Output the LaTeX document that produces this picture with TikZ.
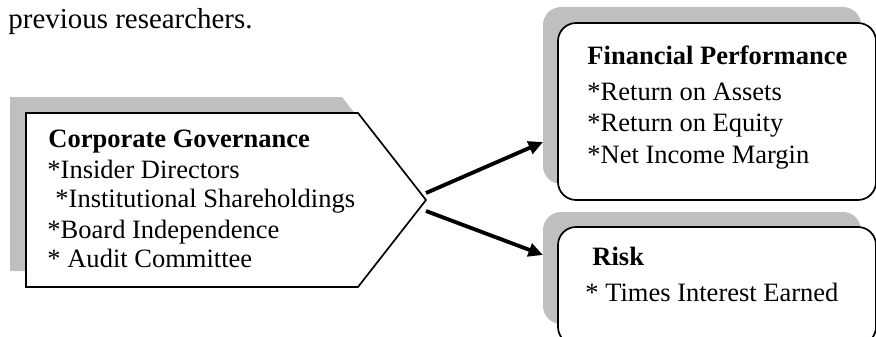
\documentclass[tikz,border=0pt]{standalone}
\usepackage{fontspec}
\setmainfont{Liberation Serif}
\usetikzlibrary{arrows.meta}

\tikzset{
  shadebox/.style={fill=black!25},
  outline/.style={draw, line width=0.7pt, fill=white},
  txt/.style={anchor=base west, inner sep=0pt, font=\fontsize{11}{13}\selectfont},
  head/.style={txt, font=\fontsize{11}{13}\selectfont\bfseries},
  link/.style={-{Triangle[length=6pt,width=5.5pt]}, line width=1.6pt}
}

\begin{document}
\begin{tikzpicture}[x=0.415pt, y=-0.415pt]
        \useasboundingbox (0,0) rectangle (876,337);

        % Leftover line of the page text
        \node[txt, font=\fontsize{12}{14}\selectfont] (intro) at (8,28) {previous researchers.};

        % Corporate governance block (shadow, then outline)
        \fill[shadebox] (10,97) -- (342,97) -- (410,184) -- (342,271) -- (10,271) -- cycle;
        \draw[outline] (26,113) -- (358,113) -- (426,200) -- (358,287) -- (26,287) -- cycle;

        % Financial performance and risk blocks
        \fill[shadebox, rounded corners=7.5pt] (543,7) rectangle (861,184);
        \draw[outline, rounded corners=7.5pt] (558,23) rectangle (876,200);
        \fill[shadebox, rounded corners=7.5pt] (543,212) rectangle (861,324);
        \draw[outline, rounded corners=7.5pt] (558,227) rectangle (876,345);

        % Texts of the left block
        \node[head] (cghead) at (48,148) {Corporate Governance};
        \foreach \i/\x/\y/\t in {1/47/178/{*Insider Directors},
                                 2/55/208/{*Institutional Shareholdings},
                                 3/47/238/{*Board Independence},
                                 4/47/267/{* Audit Committee}}
          \node[txt] (cg\i) at (\x,\y) {\t};

        % Texts of the right blocks
        \node[head] (fphead) at (587,65) {Financial Performance};
        \foreach \i/\y/\t in {1/100/{*Return on Assets},
                              2/132/{*Return on Equity},
                              3/163/{*Net Income Margin}}
          \node[txt] (fp\i) at (587,\y) {\t};
        \node[head] (riskhead) at (592,266) {Risk};
        \node[txt] (risk1) at (585,302) {* Times Interest Earned};

        % Arrow ends
        \coordinate (cgout1) at (426,193);
        \coordinate (cgout2) at (426,211);
        \coordinate (fpin) at (543,142);
        \coordinate (riskin) at (543,255);

        \draw[link] (cgout1) -- (fpin);
        \draw[link] (cgout2) -- (riskin);
\end{tikzpicture}
\end{document}
